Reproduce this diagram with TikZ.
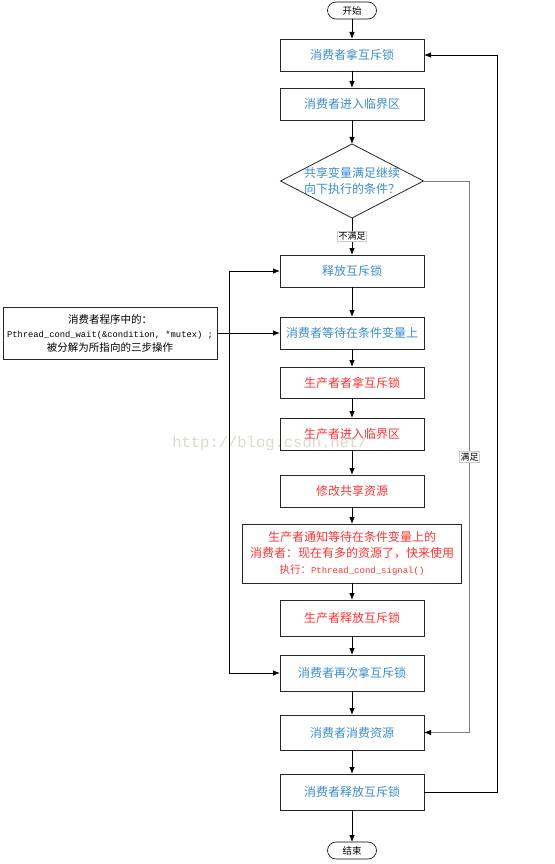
\documentclass[tikz,border=0pt]{standalone}
\usepackage{fontspec}
\setmainfont{Noto Sans CJK SC}
\setmonofont{Liberation Mono}
\usetikzlibrary{positioning,shapes.geometric,calc,arrows.meta}
\definecolor{cblue}{RGB}{60,140,210}
\definecolor{cred}{RGB}{255,50,50}
\definecolor{wmark}{RGB}{222,216,205}
\tikzset{
block/.style={
draw=black!85,
line width=0.8pt,outer sep=0pt,
minimum width=144pt,minimum height=32pt,align=center,
font={\fontsize{12pt}{16pt}\selectfont}},
cons/.style={block,text=cblue},
prod/.style={block,text=cred},
term/.style={draw,line width=0.6pt,outer sep=0pt,rounded corners=8.5pt,
minimum width=49pt,minimum height=17pt,inner sep=0pt,
font={\fontsize{9.5pt}{12}\selectfont}},
line/.style={-{Latex[length=7pt,width=5.5pt,color=black]},line width=0.8pt},
tag/.style={fill=white,draw=black!20,line width=0.4pt,inner sep=1pt,
font={\fontsize{9pt}{11}\selectfont}}
}

\begin{document}
\begin{tikzpicture}
  \useasboundingbox (0,0) rectangle (554pt,-864pt);
  \node[text=wmark,font={\ttfamily\fontsize{15.5pt}{18}\selectfont}] (wm) at (270pt,-443pt) {http://blog.csdn.net/};
  \node[term] (start) at (352pt,-10.5pt) {开始};
  \node[cons, below=20pt of start] (b1) {消费者拿互斥锁};
  \node[cons, below=17pt of b1] (b2) {消费者进入临界区};
  \node[draw=black!85, line width=0.8pt, outer sep=0pt, diamond, aspect=1.93, minimum width=143pt, minimum height=74pt, inner sep=0pt, below=24pt of b2] (q) {};
  \node[text=cblue, align=center, font={\fontsize{12pt}{16pt}\selectfont}] (qtext) at (q) {共享变量满足继续\\向下执行的条件？};
  \node[cons, below=37pt of q] (b3) {释放互斥锁};
  \node[cons, below=30pt of b3] (b4) {消费者等待在条件变量上};
  \node[prod, below=18pt of b4, minimum height=31pt] (b5) {生产者者拿互斥锁};
  \node[prod, below=20pt of b5] (b6) {生产者进入临界区};
  \node[prod, below=25pt of b6] (b7) {修改共享资源};
  \node[prod, below=17pt of b7, minimum width=219pt, minimum height=59pt] (b8) {生产者通知等待在条件变量上的\\消费者：现在有多的资源了，快来使用\\{\fontsize{10.5pt}{16pt}\selectfont 执行：\ttfamily\fontsize{9pt}{16pt}\selectfont Pthread\_cond\_signal()}};
  \node[prod, below=17pt of b8, minimum height=36pt] (b9) {生产者释放互斥锁};
  \node[cons, below=19pt of b9, minimum height=36pt] (b10) {消费者再次拿互斥锁};
  \node[cons, below=24pt of b10, minimum height=35pt] (b11) {消费者消费资源};
  \node[cons, below=24pt of b11, minimum height=36pt] (b12) {消费者释放互斥锁};
  \node[term, below=32pt of b12] (end) {结束};
  \node[block, minimum width=214pt, minimum height=52pt, font={\fontsize{10.5pt}{14pt}\selectfont}, left=63pt of b4] (note) {消费者程序中的：\\{\ttfamily\fontsize{8.8pt}{14pt}\selectfont Pthread\_cond\_wait(\&condition, *mutex) ;}\\被分解为所指向的三步操作};
  \foreach \a/\b in {start/b1,b1/b2,b2/q,b3/b4,b4/b5,b5/b6,b6/b7,b7/b8,b8/b9,b9/b10,b10/b11,b11/b12,b12/end}
    \draw[line] (\a) -- (\b);
  \draw[line] (q) -- (b3) node[tag,pos=0.5]{不满足};
  \draw[line] (note) -- (b4);
  \coordinate[right=12pt of note.east] (j);
  \draw[line] (j) |- (b3);
  \draw[line] (j) |- (b10);
  \coordinate[right=46pt of q.east] (r1);
  \draw[line,draw=black!50] (q.east) -- (r1) |- (b11.east) node[tag,pos=0.25]{满足};
  \coordinate[right=73pt of b12.east] (r2);
  \draw[line] (b12.east) -- (r2) |- (b1.east);
\end{tikzpicture}
\end{document}
